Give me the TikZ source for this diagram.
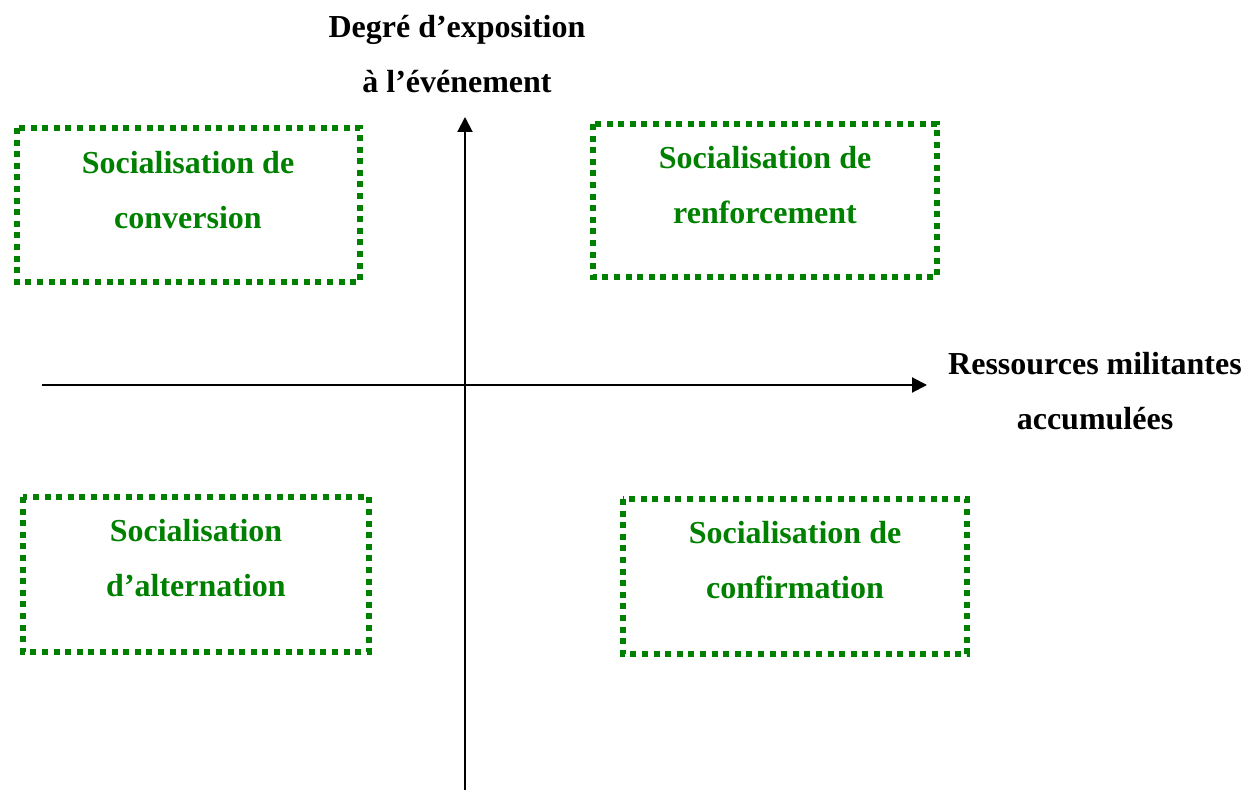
\documentclass[tikz,border=0pt]{standalone}
\usepackage{fontspec}
\setmainfont{Liberation Serif}
\usepackage{xcolor}
\usetikzlibrary{arrows.meta,positioning}
\definecolor{socgreen}{RGB}{0,128,0}

\begin{document}
\begin{tikzpicture}[x=0.5pt,y=-0.5pt,
      axis/.style={line width=1pt,-{Triangle[length=7.5pt,width=7.5pt]}},
      quadbox/.style={draw=socgreen,line width=3pt,dash pattern=on 3pt off 2.8pt,
        rectangle,inner sep=0pt},
      quadtext/.style={text=socgreen,font=\fontsize{16}{27.5}\selectfont\bfseries,align=center},
      axistext/.style={font=\fontsize{16}{27.5}\selectfont\bfseries,align=center}]
      \useasboundingbox (0,0) rectangle (1247,790);
      \coordinate (ybot) at (465,790);
      \coordinate (ytop) at (465,117);
      \coordinate (xleft) at (42,385);
      \coordinate (xright) at (927,385);
      \draw[axis] (ybot) -- (ytop);
      \draw[axis] (xleft) -- (xright);
      \node[axistext] (ylabel) at (457,54) {Degré d’exposition\\à l’événement};
      \node[axistext] (xlabel) at (1095,391) {Ressources militantes\\accumulées};
      \draw[quadbox] (17,128) rectangle (360,282);
      \draw[quadbox] (593,124) rectangle (937,277);
      \draw[quadbox] (23,497) rectangle (369,652);
      \draw[quadbox] (623,499) rectangle (967,654);
      \node[quadtext] (conversion) at (188,190) {Socialisation de\\conversion};
      \node[quadtext] (renforcement) at (765,185) {Socialisation de\\renforcement};
      \node[quadtext] (alternation) at (196,558) {Socialisation\\d’alternation};
      \node[quadtext] (confirmation) at (795,560) {Socialisation de\\confirmation};
\end{tikzpicture}
\end{document}
